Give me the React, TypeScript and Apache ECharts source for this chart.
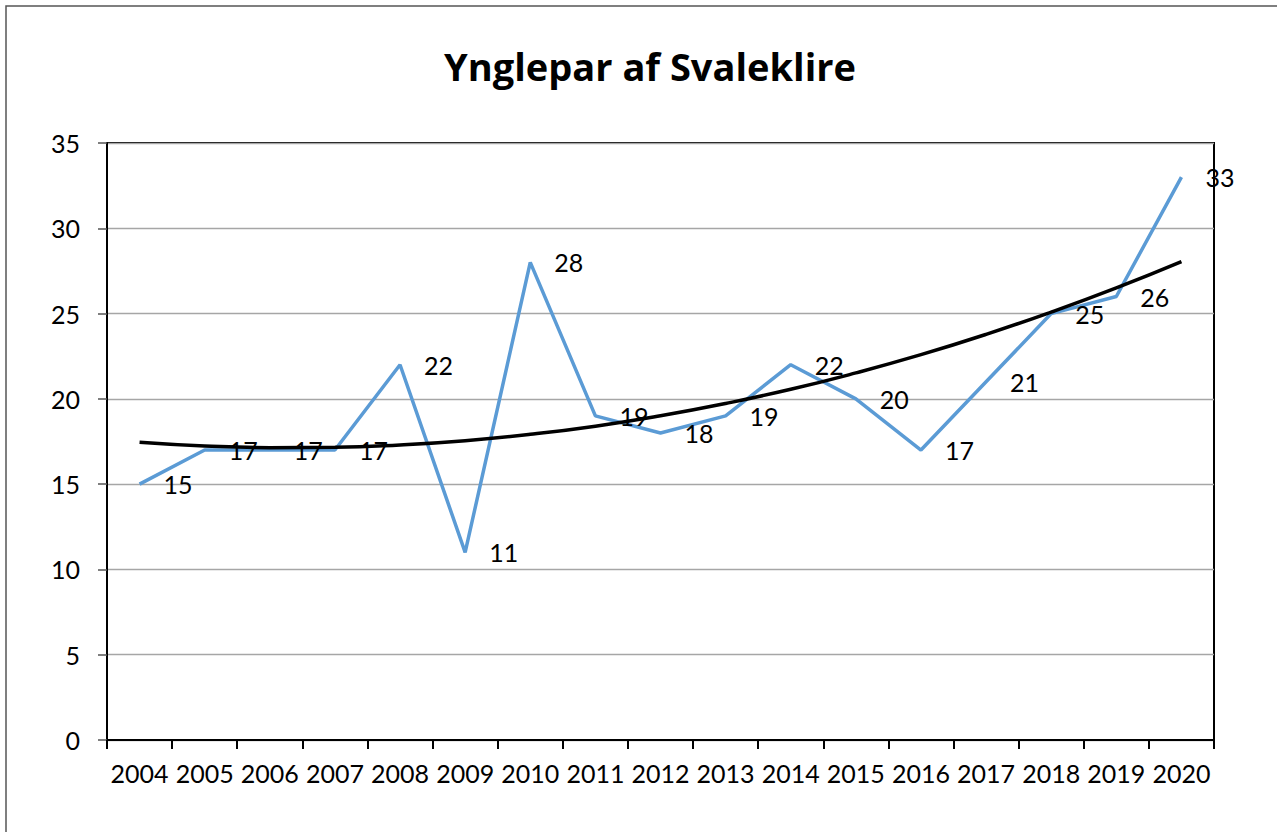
import React, { useEffect, useRef } from "react";
import * as echarts from "echarts";

const years = ["2004","2005","2006","2007","2008","2009","2010","2011","2012","2013","2014","2015","2016","2017","2018","2019","2020"];
const pairs = [15, 17, 17, 17, 22, 11, 28, 19, 18, 19, 22, 20, 17, 21, 25, 26, 33];
const trend = [17.46, 17.24, 17.14, 17.16, 17.3, 17.55, 17.92, 18.4, 19.01, 19.73, 20.56, 21.52, 22.59, 23.78, 25.09, 26.51, 28.05];
const titleText = "Ynglepar af Svaleklire";

const FONT = "Lato, 'Open Sans', sans-serif";

export default function App() {
  const ref = useRef<HTMLDivElement>(null);
  useEffect(() => {
    if (!ref.current) return;
    const chart = echarts.init(ref.current, null, { renderer: "svg" });
    chart.setOption({
      animation: false,
      backgroundColor: "#ffffff",
      title: {
        text: titleText,
        left: 645,
        top: 42,
        textAlign: "center",
        textStyle: { fontFamily: "'Open Sans', sans-serif", fontWeight: "bold", fontSize: 38, color: "#000" },
      },
      graphic: [
        {
          type: "rect",
          shape: { x: 6, y: 6, width: 1300, height: 900 },
          style: { fill: "none", stroke: "#555", lineWidth: 1.5 },
          silent: true,
        },
      ],
      grid: {
        left: 107,
        right: 63,
        top: 143,
        bottom: 92,
        show: true,
        borderColor: "#000",
        borderWidth: 2,
        backgroundColor: "transparent",
      },
      xAxis: {
        type: "category",
        data: years,
        boundaryGap: true,
        axisLine: { lineStyle: { color: "#000", width: 2 } },
        axisTick: { show: true, alignWithLabel: false, length: 9, lineStyle: { color: "#000", width: 2 } },
        axisLabel: { color: "#000", fontFamily: FONT, fontSize: 25, margin: 20, interval: 0 },
        splitLine: { show: false },
      },
      yAxis: {
        type: "value",
        min: 0,
        max: 35,
        interval: 5,
        axisLine: { show: true, lineStyle: { color: "#000", width: 2 } },
        axisTick: { show: true, length: 9, lineStyle: { color: "#555", width: 1.5 } },
        axisLabel: { color: "#000", fontFamily: FONT, fontSize: 25, margin: 27 },
        splitLine: { show: true, lineStyle: { color: "#a6a6a6", width: 1.3 } },
      },
      series: [
        {
          type: "line",
          data: pairs,
          symbol: "circle",
          symbolSize: 0,
          showSymbol: true,
          itemStyle: { color: "#5b9bd5" },
          lineStyle: { color: "#5b9bd5", width: 3.5 },
          z: 2,
          label: {
            show: true,
            position: "right",
            distance: 24,
            offset: [0, 3],
            color: "#000",
            fontFamily: FONT,
            fontSize: 25,
          },
          labelLayout: { hideOverlap: false },
        },
        {
          type: "line",
          data: trend,
          symbol: "none",
          smooth: true,
          lineStyle: { color: "#000", width: 3.5 },
          z: 3,
          label: { show: false },
        },
      ],
    });
    return () => chart.dispose();
  }, []);
  return (
    <div
      ref={ref}
      style={{ position: "fixed", left: 0, top: 0, width: 1277, height: 832 }}
    />
  );
}
